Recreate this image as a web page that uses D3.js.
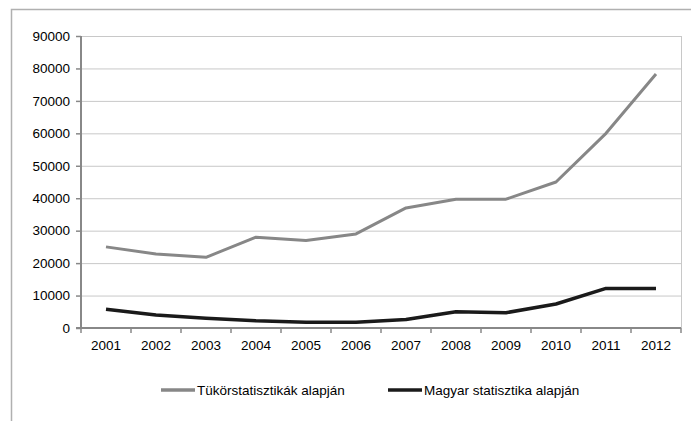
<!DOCTYPE html>
<html>
<head>
<meta charset="utf-8">
<script src="https://cdn.jsdelivr.net/npm/d3@7"></script>
<style>
  body { margin: 0; background: #fff; }
  text { font-family: "Liberation Sans", Arial, sans-serif; fill: #000; }
</style>
</head>
<body>
<svg id="chart" width="691" height="421"></svg>
<script>
const years = ['2001', '2002', '2003', '2004', '2005', '2006', '2007', '2008', '2009', '2010', '2011', '2012'];
const tukorValues = [25000, 22800, 21800, 28000, 27000, 29000, 37000, 39700, 39700, 45000, 60000, 78300];
const magyarValues = [5800, 4000, 3000, 2200, 1800, 1800, 2600, 5000, 4700, 7400, 12200, 12200];
const yTicks = [0, 10000, 20000, 30000, 40000, 50000, 60000, 70000, 80000, 90000];
const seriesNames = ['Tükörstatisztikák alapján', 'Magyar statisztika alapján'];

const svg = d3.select('#chart');
const plot = { left: 81, right: 681, top: 36, bottom: 328 };
const fontSize = 13.5;

// outer frame (extends past the window on right and bottom)
svg.append('rect')
    .attr('x', 11.5).attr('y', 9.5)
    .attr('width', 700).attr('height', 430)
    .attr('fill', 'none').attr('stroke', '#b0b0b0').attr('stroke-width', 1.5);

const x = d3.scaleBand().domain(years).range([plot.left, plot.right]);
const y = d3.scaleLinear().domain([0, 90000]).range([plot.bottom, plot.top]);

// gridlines
svg.append('g').selectAll('line')
    .data(yTicks.filter(d => d > 0))
    .enter().append('line')
    .attr('x1', plot.left).attr('x2', plot.right)
    .attr('y1', d => y(d) + 0.5).attr('y2', d => y(d) + 0.5)
    .attr('stroke', '#c8c8c8').attr('stroke-width', 1);

svg.append('line')
    .attr('x1', plot.right + 0.5).attr('x2', plot.right + 0.5)
    .attr('y1', plot.top).attr('y2', plot.bottom)
    .attr('stroke', '#c8c8c8');

// y axis
const yAxis = svg.append('g')
    .attr('transform', `translate(${plot.left},0)`)
    .call(d3.axisLeft(y).tickValues(yTicks).tickSize(5).tickPadding(6).tickFormat(d3.format('d')));
yAxis.select('.domain').attr('stroke', '#888').attr('stroke-width', 2).attr('d', `M0,${plot.top}V${plot.bottom}`);
yAxis.selectAll('.tick line').attr('stroke', '#888').attr('stroke-width', 1.5);
yAxis.selectAll('text').attr('font-size', fontSize).attr('fill', '#000');

// x axis
const xAxis = svg.append('g')
    .attr('transform', `translate(0,${plot.bottom})`)
    .call(d3.axisBottom(x).tickSize(0).tickPadding(12));
xAxis.select('.domain').attr('stroke', '#888').attr('stroke-width', 2).attr('d', `M${plot.left - 5},0H${plot.right}`);
xAxis.selectAll('text').attr('font-size', fontSize).attr('fill', '#000');
xAxis.append('g').selectAll('line')
    .data(d3.range(years.length + 1))
    .enter().append('line')
    .attr('x1', i => plot.left + i * x.bandwidth())
    .attr('x2', i => plot.left + i * x.bandwidth())
    .attr('y1', 0).attr('y2', 5)
    .attr('stroke', '#888').attr('stroke-width', 1.5);

// lines
const line = d3.line()
    .x((d, i) => x(years[i]) + x.bandwidth() / 2)
    .y(d => y(d));

svg.append('path').datum(tukorValues)
    .attr('d', line).attr('fill', 'none')
    .attr('stroke', '#878787').attr('stroke-width', 3).attr('stroke-linejoin', 'round');
svg.append('path').datum(magyarValues)
    .attr('d', line).attr('fill', 'none')
    .attr('stroke', '#1a1a1a').attr('stroke-width', 3.5).attr('stroke-linejoin', 'round');

// legend
const legend = [
    { name: seriesNames[0], color: '#878787', x: 161 },
    { name: seriesNames[1], color: '#1a1a1a', x: 388 }
];
const lg = svg.append('g').selectAll('g').data(legend).enter().append('g')
    .attr('transform', d => `translate(${d.x},390)`);
lg.append('line').attr('x1', 0).attr('x2', 34).attr('y1', 0).attr('y2', 0)
    .attr('stroke', d => d.color).attr('stroke-width', 3.5);
lg.append('text').attr('x', 36).attr('y', 5).attr('font-size', fontSize).text(d => d.name);
</script>
</body>
</html>
